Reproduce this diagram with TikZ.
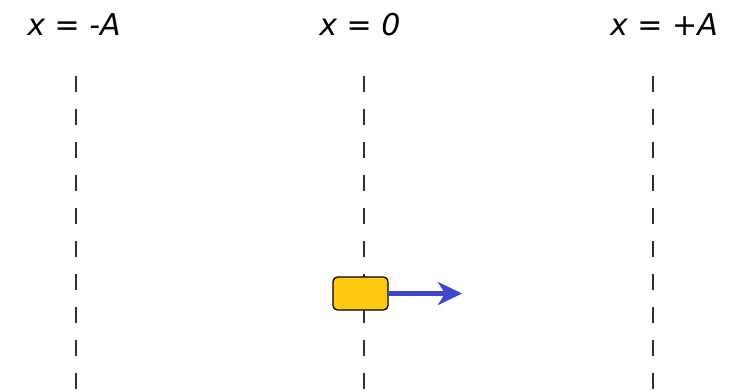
\documentclass[tikz,border=0pt]{standalone}
\usepackage{fontspec}
\setmainfont{DejaVu Sans}
\usetikzlibrary{arrows.meta}
\definecolor{gold}{HTML}{FFC90E}
\definecolor{indigo}{HTML}{3F48CC}
\definecolor{dashgray}{HTML}{303030}
\tikzset{
  lbl/.style={font=\fontsize{30}{36}\selectfont\itshape, inner sep=0pt, anchor=base},
  guide/.style={draw=dashgray, line width=1.8pt, dash pattern=on 16pt off 17pt},
  mass/.style={draw=black, line width=1.3pt, fill=gold, rounded corners=4.5pt,
               minimum width=55pt, minimum height=33pt, inner sep=0pt},
  vel/.style={draw=indigo, line width=5pt, -{Stealth[length=24pt,width=23pt,inset=7pt]}}
}
\begin{document}
\begin{tikzpicture}[x=1pt,y=-1pt]
\useasboundingbox (0,0) rectangle (734,391);
\node[lbl] (lA) at (74,35) {x = -A};
\node[lbl] (l0) at (360,35) {x = 0};
\node[lbl] (lB) at (664,35) {x = +A};
\coordinate (t1) at (76,76);
\coordinate (b1) at (76,395);
\coordinate (t2) at (364,76);
\coordinate (b2) at (364,395);
\coordinate (t3) at (653,76);
\coordinate (b3) at (653,395);
\draw[guide] (t1) -- (b1);
\draw[guide] (t2) -- (b2);
\draw[guide] (t3) -- (b3);
\node[mass] (box) at (360.5,293.5) {};
\coordinate (aend) at (462,293.5);
\draw[vel] ([xshift=-1pt]box.east) -- (aend);
\end{tikzpicture}
\end{document}
